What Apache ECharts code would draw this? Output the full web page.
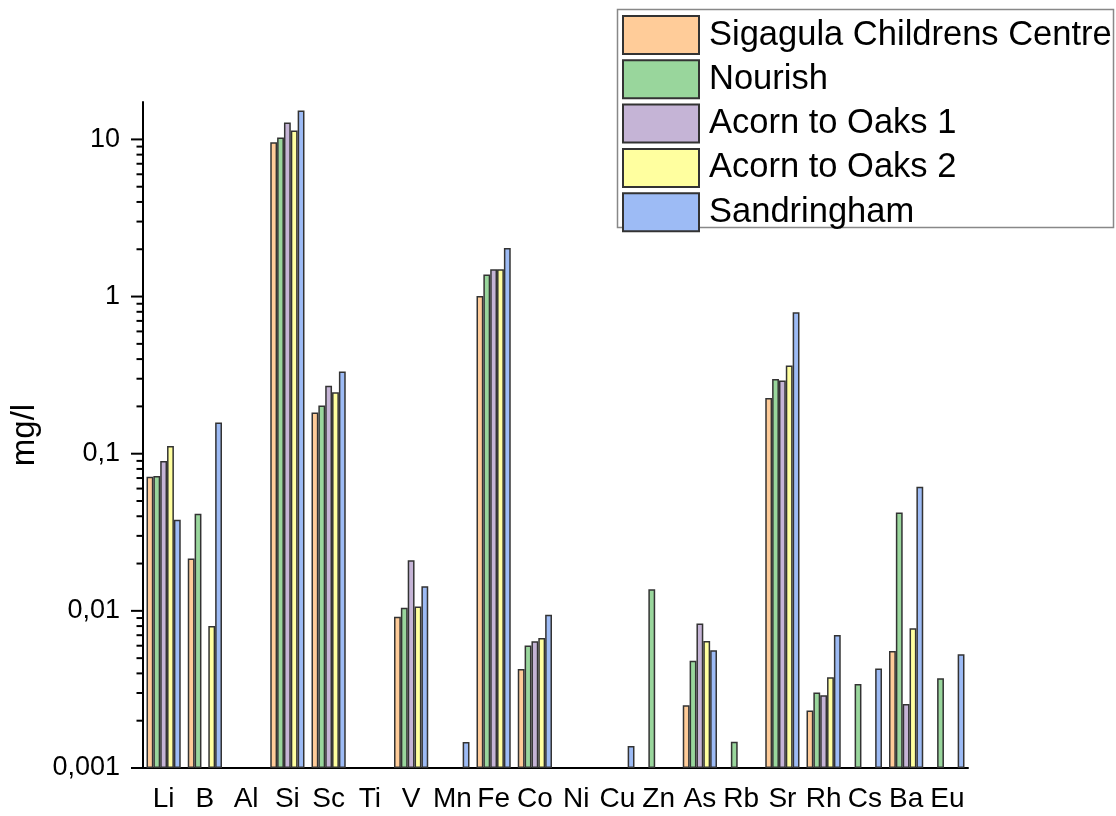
<!DOCTYPE html>
<html>
<head>
<meta charset="utf-8">
<script src="https://cdn.jsdelivr.net/npm/echarts@6/dist/echarts.min.js"></script>
<style>html,body{margin:0;padding:0;background:#fff;}#c{width:1116px;height:816px;}</style>
</head>
<body>
<div id="c"></div>
<script>
// ---- data (mg/l) ----
const categories = ['Li','B','Al','Si','Sc','Ti','V','Mn','Fe','Co','Ni','Cu','Zn','As','Rb','Sr','Rh','Cs','Ba','Eu'];
const seriesNames = ['Sigagula Childrens Centre','Nourish','Acorn to Oaks 1','Acorn to Oaks 2','Sandringham'];
const sigagula    = [0.0714, 0.0215, null, 9.6, 0.183, null, 0.00916, null, 1.01, 0.00426, null, null, null, 0.00251, null, 0.226, 0.00232, null, 0.00556, null];
const nourish     = [0.072, 0.0415, null, 10.3, 0.203, null, 0.01045, null, 1.38, 0.00601, null, null, 0.01374, 0.00481, 0.00147, 0.299, 0.00302, 0.00343, 0.0423, 0.00373];
const acorn1      = [0.090, null, null, 12.8, 0.271, null, 0.0210, null, 1.49, 0.00641, null, null, null, 0.0083, null, 0.292, 0.00290, null, 0.00255, null];
const acorn2      = [0.112, 0.0080, null, 11.4, 0.246, null, 0.01065, null, 1.49, 0.00673, null, null, null, 0.00644, null, 0.364, 0.00378, null, 0.00776, null];
const sandringham = [0.038, 0.158, null, 15.3, 0.334, null, 0.01436, 0.001465, 2.04, 0.00943, null, 0.00138, null, 0.00562, null, 0.794, 0.00703, 0.0043, 0.0617, 0.0053];
const yTickLabels = ['0,001','0,01','0,1','1','10'];
const yMin = 0.001, yMax = 17.3;

const colors = ['#FFCC99','#99D69C','#C5B4D6','#FFFF9F','#9DBBF5'];
const seriesData = [sigagula, nourish, acorn1, acorn2, sandringham];

// log transform so bars grow from the axis minimum
const lg = v => Math.log10(v) - Math.log10(yMin);
const font = 'Liberation Sans, Arial, sans-serif';

// log tick positions (majors + minors 2..9)
const tickData = [];
for (let d = 0; d <= 4; d++) {
  for (let k = 1; k <= 9; k++) {
    const val = Math.pow(10, d) * k * yMin;
    if (val <= yMax) tickData.push([0, lg(val), k === 1 ? 12 : 6.5]);
  }
}

const chart = echarts.init(document.getElementById('c'), null, {renderer: 'canvas'});
const series = seriesData.map((arr, i) => ({
  name: seriesNames[i],
  type: 'bar',
  xAxisIndex: 0,
  barGap: '0%',
  barCategoryGap: '17%',
  itemStyle: {color: colors[i], borderColor: '#333', borderWidth: 1.5},
  emphasis: {disabled: true},
  data: arr.map(v => v == null ? '-' : lg(v))
}));
series.push({
  type: 'custom',
  name: 'ticks',
  silent: true,
  clip: false,
  encode: {x: 0, y: 1},
  data: tickData,
  renderItem: function (params, api) {
    const cs = params.coordSys;
    const y = api.coord([0, api.value(1)])[1];
    const len = api.value(2);
    return {type: 'line', shape: {x1: cs.x - len, y1: y, x2: cs.x, y2: y},
            style: {stroke: '#000', lineWidth: 2}};
  }
});

chart.setOption({
  animation: false,
  backgroundColor: '#fff',
  grid: {left: 143, right: 148, top: 102, bottom: 48, containLabel: false},
  graphic: [{
    type: 'rect', z: 1,
    shape: {x: 617.5, y: 9.5, width: 496, height: 218},
    style: {fill: '#fff', stroke: '#888', lineWidth: 1.5}
  }],
  legend: {
    data: seriesNames,
    orient: 'vertical',
    left: 622, top: 15, padding: 0,
    itemWidth: 76, itemHeight: 38, itemGap: 4.3,
    icon: 'rect',
    selectedMode: false,
    textStyle: {fontSize: 34.5, fontFamily: font, color: '#000', padding: [0, 0, 0, 5]}
  },
  xAxis: [{
    type: 'category', data: categories, position: 'bottom',
    axisLine: {lineStyle: {color: '#000', width: 2}},
    axisTick: {alignWithLabel: true, length: 12, lineStyle: {color: '#000', width: 2}},
    axisLabel: {fontSize: 28, fontFamily: font, color: '#000', margin: 17, interval: 0},
    splitLine: {show: false}
  }, {
    type: 'category', data: categories, position: 'bottom', offset: 0,
    axisLine: {show: false},
    axisTick: {length: 6, lineStyle: {color: '#000', width: 2}},
    axisLabel: {show: false},
    splitLine: {show: false}
  }],
  yAxis: {
    type: 'value', min: 0, max: lg(yMax), interval: 1,
    name: 'mg/l', nameLocation: 'middle', nameGap: 100,
    nameTextStyle: {fontSize: 33, fontFamily: font, color: '#000'},
    axisLine: {show: true, lineStyle: {color: '#000', width: 2}},
    axisTick: {show: false},
    splitLine: {show: false},
    axisLabel: {
      fontSize: 27, fontFamily: font, color: '#000', margin: 23,
      formatter: v => (Math.abs(v - Math.round(v)) < 1e-6 && yTickLabels[Math.round(v)] !== undefined) ? yTickLabels[Math.round(v)] : ''
    }
  },
  series: series
});
</script>
</body>
</html>
